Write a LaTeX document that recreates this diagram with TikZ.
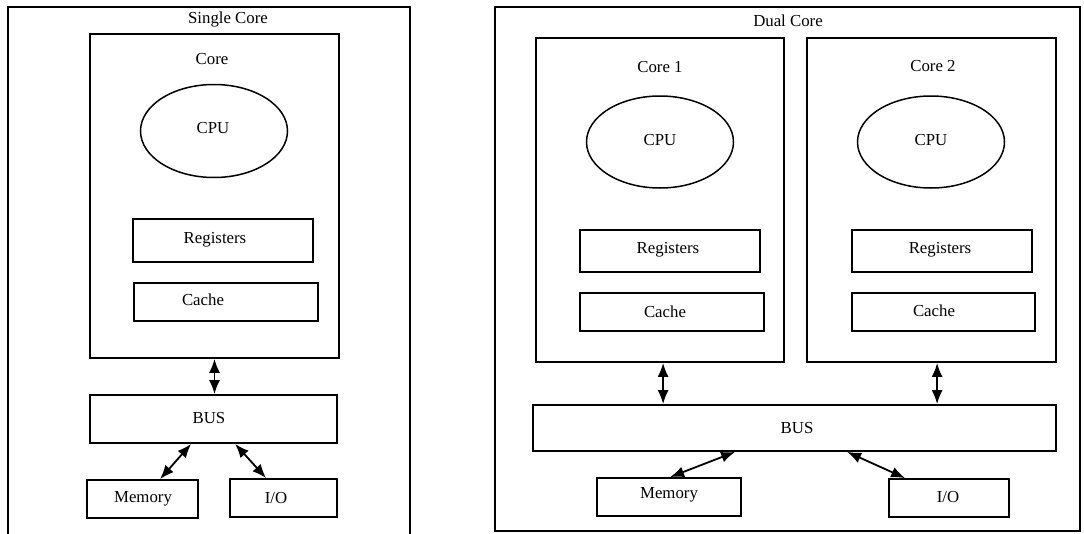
\documentclass[tikz,border=0pt]{standalone}
\usepackage{fontspec}
\setmainfont{Liberation Serif}
\usetikzlibrary{arrows.meta,shapes.geometric}
\tikzset{
  box/.style={draw, line width=1.8pt, rectangle, inner sep=0pt},
  oval/.style={draw, line width=1.5pt, ellipse, inner sep=0pt},
  lbl/.style={inner sep=0pt, font=\fontsize{16.8}{20}\selectfont},
  arr/.style={{Latex[length=14pt,width=11pt]}-{Latex[length=14pt,width=11pt]}, line width=1.8pt}
}
\begin{document}
\begin{tikzpicture}[x=1pt,y=-1pt]
\useasboundingbox[fill=white] (0,0) rectangle (1084,533);
% ---------- Single core ----------
\draw[line width=1.8pt] (8,534) -- (8,7) -- (410,7) -- (410,534);
\node[lbl] (tsingle) at (228,19) {Single Core};
\node[box, minimum width=249pt, minimum height=324pt] (core) at (214.5,196) {};
\node[lbl] (tcore) at (212,59) {Core};
\node[oval, minimum width=147pt, minimum height=93pt] (cpu) at (214,131) {};
\node[lbl] (tcpu) at (213,128) {CPU};
\node[box, minimum width=180pt, minimum height=43pt] (reg) at (223,240.5) {};
\node[lbl] (treg) at (215,240) {Registers};
\node[box, minimum width=184pt, minimum height=38pt] (cache) at (226,302) {};
\node[lbl] (tcache) at (203,300) {Cache};
\node[box, minimum width=247pt, minimum height=48pt] (bus) at (213.5,419) {};
\node[lbl] (tbus) at (209,418) {BUS};
\node[box, minimum width=111pt, minimum height=38pt] (mem) at (142.5,499) {};
\node[lbl] (tmem) at (143,499) {Memory};
\node[box, minimum width=107pt, minimum height=38pt] (io) at (283.5,498) {};
\node[lbl] (tio) at (276,498) {I/O};
\draw[arr] (core.south) -- (core.south |- bus.north);
\draw[arr] ([xshift=102pt]bus.south west) -- ([xshift=74pt]mem.north west);
\draw[arr] ([xshift=146pt]bus.south west) -- ([xshift=37pt]io.north west);
% ---------- Dual core ----------
\node[box, minimum width=585pt, minimum height=524pt] (dual) at (787.5,269) {};
\node[lbl] (tdual) at (788,21) {Dual Core};
% core 1
\node[box, minimum width=248pt, minimum height=324pt] (coreA) at (660,200) {};
\node[lbl] (tcoreA) at (660,67) {Core 1};
\node[oval, minimum width=147pt, minimum height=92pt] (cpuA) at (660,142) {};
\node[lbl] (tcpuA) at (660,140) {CPU};
\node[box, minimum width=180pt, minimum height=42pt] (regA) at (670,251) {};
\node[lbl] (tregA) at (668,250) {Registers};
\node[box, minimum width=184pt, minimum height=38pt] (cacheA) at (672,312) {};
\node[lbl] (tcacheA) at (665,312) {Cache};
% core 2
\node[box, minimum width=249pt, minimum height=324pt] (coreB) at (931.5,200) {};
\node[lbl] (tcoreB) at (933,66) {Core 2};
\node[oval, minimum width=147pt, minimum height=92pt] (cpuB) at (931,142) {};
\node[lbl] (tcpuB) at (931,140) {CPU};
\node[box, minimum width=180pt, minimum height=42pt] (regB) at (942,251) {};
\node[lbl] (tregB) at (940,250) {Registers};
\node[box, minimum width=183pt, minimum height=38pt] (cacheB) at (943.5,312) {};
\node[lbl] (tcacheB) at (934,311) {Cache};
% bus etc.
\node[box, minimum width=523pt, minimum height=46pt] (busD) at (794.5,428) {};
\node[lbl] (tbusD) at (797,428) {BUS};
\node[box, minimum width=144pt, minimum height=38pt] (memD) at (669,497) {};
\node[lbl] (tmemD) at (669,495) {Memory};
\node[box, minimum width=120pt, minimum height=38pt] (ioD) at (949,498) {};
\node[lbl] (tioD) at (948,497) {I/O};
\draw[arr] ([xshift=128pt]coreA.south west) -- ([xshift=128pt]coreA.south west |- busD.north);
\draw[arr] ([xshift=131pt]coreB.south west) -- ([xshift=131pt]coreB.south west |- busD.north);
\draw[arr] ([xshift=203pt]busD.south west) -- ([xshift=74pt]memD.north west);
\draw[arr] ([xshift=315pt]busD.south west) -- ([xshift=17pt]ioD.north west);
\end{tikzpicture}
\end{document}
